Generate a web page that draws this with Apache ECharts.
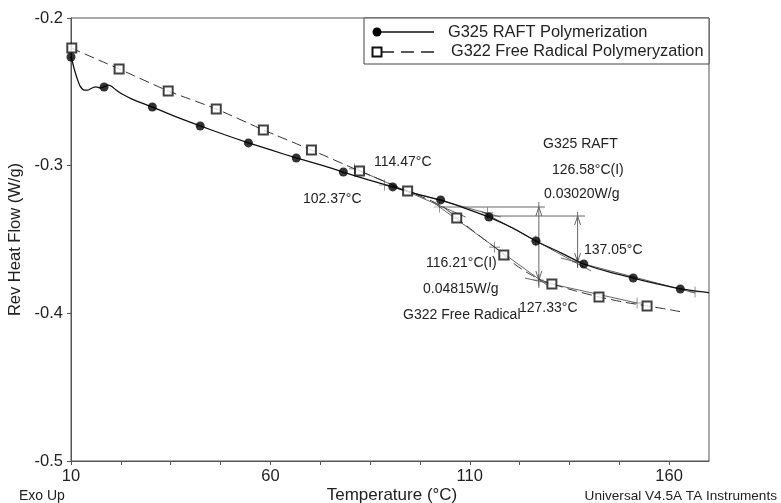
<!DOCTYPE html>
<html>
<head>
<meta charset="utf-8">
<script src="https://cdn.jsdelivr.net/npm/echarts@6/dist/echarts.min.js"></script>
<style>html,body{margin:0;padding:0;background:#fff}#chart{width:781px;height:503px}</style>
</head>
<body>
<div id="chart"></div>
<script>
// G325 RAFT Polymerization, rev heat flow curve
const raftTemp = [10.0, 10.25, 10.75, 11.5, 12.26, 13.27, 14.27, 15.28, 16.28, 17.29, 18.29, 19.3, 20.05, 21.3, 22.8, 25.3, 27.8, 30.4, 36.4, 42.4, 48.4, 54.5, 60.5, 66.5, 72.6, 78.3, 84.6, 90.7, 96.7, 102.7, 108.7, 114.8, 120.8, 126.6, 132.9, 138.6, 144.9, 151.0, 157.0, 162.8, 170.0]
const raftFlow = [-0.2258, -0.2284, -0.2339, -0.2406, -0.2460, -0.2488, -0.2488, -0.2474, -0.2467, -0.2474, -0.2467, -0.2454, -0.2460, -0.2488, -0.2515, -0.2549, -0.2576, -0.2603, -0.2670, -0.2731, -0.2789, -0.2846, -0.2897, -0.2948, -0.2995, -0.3043, -0.3097, -0.3144, -0.3192, -0.3232, -0.3287, -0.3348, -0.3422, -0.3510, -0.3591, -0.3666, -0.3720, -0.3761, -0.3801, -0.3835, -0.3860]
const raftMarkTemp = [10.0, 18.3, 30.4, 42.4, 54.5, 66.5, 78.3, 90.7, 102.7, 114.8, 126.6, 138.6, 151.0, 162.8]
const raftMarkFlow = [-0.2264, -0.2467, -0.2603, -0.2731, -0.2846, -0.2948, -0.3043, -0.3144, -0.3232, -0.3348, -0.3510, -0.3666, -0.3761, -0.3835]

// G322 Free Radical Polymeryzation
const frTemp = [10.0, 22.06, 34.37, 46.43, 58.24, 70.30, 82.36, 94.42, 100.45, 103.72, 106.73, 110.25, 113.52, 116.53, 118.54, 121.56, 124.57, 127.84, 130.60, 136.63, 142.41, 148.44, 154.47, 159.25, 163.27]
const frFlow = [-0.2203, -0.2345, -0.2494, -0.2616, -0.2758, -0.2894, -0.3036, -0.3171, -0.3239, -0.3287, -0.3354, -0.3429, -0.3497, -0.3558, -0.3605, -0.3673, -0.3727, -0.3774, -0.3801, -0.3849, -0.3889, -0.3923, -0.3950, -0.3971, -0.3991]
const frMarkTemp = [10.2, 22.06, 34.37, 46.43, 58.24, 70.30, 82.36, 94.42, 106.73, 118.54, 130.60, 142.41, 154.47]
const frMarkFlow = [-0.2203, -0.2345, -0.2494, -0.2616, -0.2758, -0.2894, -0.3036, -0.3171, -0.3354, -0.3605, -0.3801, -0.3889, -0.3950]

// analysis marks: limit, onset, inflection, end, limit
const raftPlusTemp = [88.64, 114.47, 126.58, 137.05, 166.5]
const raftPlusFlow = [-0.3131, -0.3320, -0.3510, -0.3652, -0.3855]
const frPlusTemp = [81.11, 102.37, 116.21, 127.33, 151.96]
const frPlusFlow = [-0.3022, -0.3280, -0.3552, -0.3774, -0.3930]

// tangent / step construction lines: [t1, f1, t2, f2]
const constructLines = [
    [81.11, -0.3019, 108.99, -0.3348],
    [100.70, -0.3246, 129.35, -0.3808],
    [123.82, -0.3761, 151.96, -0.3930],
    [102.37, -0.3280, 128.84, -0.3280],
    [88.64, -0.3131, 117.79, -0.3348],
    [112.76, -0.3307, 140.40, -0.3713],
    [132.86, -0.3625, 166.48, -0.3862],
    [114.47, -0.3341, 138.9, -0.3341]
]
// step arrows: [temp, lineTop, lineBottom, tipTop, tipBottom]
const stepArrows = [
    [127.33, -0.3246, -0.3828, -0.3280, -0.3774],
    [137.05, -0.3314, -0.3693, -0.3341, -0.3652]
]

const xLabels = [10, 60, 110, 160]
const yTicks = [-0.5, -0.4, -0.3, -0.2]

const pairs = (xs, ys) => xs.map((x, i) => [x, ys[i]])
const FONT = '"Liberation Sans", Arial, sans-serif'

const segs = constructLines.map(s => ({coords: [[s[0], s[1]], [s[2], s[3]]]}))
stepArrows.forEach(a => {
    const t = a[0], dx = 0.75, dy = 0.0061
    segs.push({coords: [[t, a[1]], [t, a[2]]]})
    segs.push({coords: [[t - dx, a[3] - dy], [t, a[3]], [t + dx, a[3] - dy]]})
    segs.push({coords: [[t - dx, a[4] + dy], [t, a[4]], [t + dx, a[4] + dy]]})
})

const plusPath = 'path://M9.4,0H10.6V9.4H20V10.6H10.6V20H9.4V10.6H0V9.4H9.4Z'

const notes = [
    ['114.47°C', 374, 162],
    ['102.37°C', 303, 199],
    ['G325 RAFT', 543, 144],
    ['126.58°C(I)', 552, 170],
    ['0.03020W/g', 544, 194],
    ['137.05°C', 584, 250],
    ['116.21°C(I)', 426, 263],
    ['0.04815W/g', 423, 289],
    ['G322 Free Radical', 403, 315],
    ['127.33°C', 519, 308]
]

const chart = echarts.init(document.getElementById('chart'))
chart.setOption({
    animation: false,
    grid: {left: 71, right: 72, top: 18, bottom: 42, show: true, borderColor: '#555', borderWidth: 1,
        containLabel: false, outerBoundsMode: 'none'},
    xAxis: {
        type: 'value', min: 10, max: 170, interval: 12.5,
        axisLine: {lineStyle: {color: '#555'}},
        axisTick: {length: 4, lineStyle: {color: '#555'}},
        axisLabel: {
            margin: 7, fontFamily: FONT, fontSize: 16.5, color: '#222', showMaxLabel: false,
            formatter: v => xLabels.some(l => Math.abs(l - v) < 1e-6) ? String(v) : ''
        },
        splitLine: {show: false}
    },
    yAxis: {
        type: 'value', min: yTicks[0], max: yTicks[yTicks.length - 1], interval: 0.1,
        name: 'Rev Heat Flow (W/g)', nameLocation: 'middle', nameGap: 41,
        nameTextStyle: {fontFamily: FONT, fontSize: 16.5, color: '#222'},
        axisLine: {show: true, lineStyle: {color: '#555'}},
        axisTick: {show: true, length: 4, lineStyle: {color: '#555'}},
        axisLabel: {margin: 8, fontFamily: FONT, fontSize: 16.5, color: '#222', formatter: v => v.toFixed(1)},
        splitLine: {show: false}
    },
    series: [
        {type: 'lines', coordinateSystem: 'cartesian2d', polyline: true, silent: true, z: 1,
            lineStyle: {color: '#666', width: 1, opacity: 1}, data: segs},
        {type: 'line', data: pairs(frTemp, frFlow), showSymbol: false, smooth: 0.2, z: 2,
            lineStyle: {color: '#333', width: 1, type: [10, 5]}},
        {type: 'line', data: pairs(raftTemp, raftFlow), showSymbol: false, smooth: 0.2, z: 3,
            lineStyle: {color: '#111', width: 1.3}},
        {type: 'scatter', data: pairs(frPlusTemp, frPlusFlow).concat(pairs(raftPlusTemp, raftPlusFlow)),
            symbol: plusPath, symbolSize: 11, itemStyle: {color: '#333'}, z: 4},
        {type: 'scatter', data: pairs(raftMarkTemp, raftMarkFlow), symbol: 'circle', symbolSize: 9,
            itemStyle: {color: '#000'}, z: 5},
        {type: 'scatter', data: pairs(frMarkTemp, frMarkFlow), symbol: 'rect', symbolSize: 9,
            itemStyle: {color: '#fff', borderColor: '#111', borderWidth: 2}, z: 5}
    ],
    graphic: [
        {type: 'rect', shape: {x: 364, y: 18, width: 345, height: 46}, style: {fill: '#fff', stroke: '#444', lineWidth: 1}, z: 10},
        {type: 'line', shape: {x1: 377, y1: 32, x2: 434, y2: 32}, style: {stroke: '#111', lineWidth: 1.3}, z: 11},
        {type: 'circle', shape: {cx: 377, cy: 32, r: 4.5}, style: {fill: '#000'}, z: 12},
        {type: 'line', shape: {x1: 381, y1: 52, x2: 434, y2: 52}, style: {stroke: '#222', lineWidth: 1.3, lineDash: [13, 7]}, z: 11},
        {type: 'rect', shape: {x: 372.5, y: 47.5, width: 9, height: 9}, style: {fill: '#fff', stroke: '#111', lineWidth: 2}, z: 12},
        {type: 'text', x: 448, y: 32, style: {text: 'G325 RAFT Polymerization', font: '16.4px ' + FONT, fill: '#222', verticalAlign: 'middle'}, z: 12},
        {type: 'text', x: 451, y: 52, style: {text: 'G322 Free Radical Polymeryzation', font: '16.3px ' + FONT, fill: '#222', verticalAlign: 'middle'}, z: 12},
        {type: 'text', x: 392, y: 495, style: {text: 'Temperature (°C)', font: '17px ' + FONT, fill: '#222', align: 'center', verticalAlign: 'middle'}},
        {type: 'text', x: 19, y: 496, style: {text: 'Exo Up', font: '14px ' + FONT, fill: '#222', verticalAlign: 'middle'}},
        {type: 'text', x: 777, y: 496, style: {text: 'Universal V4.5A TA Instruments', font: '13.6px ' + FONT, fill: '#222', align: 'right', verticalAlign: 'middle'}}
    ].concat(notes.map(n => ({
        type: 'text', x: n[1], y: n[2], z: 12,
        style: {text: n[0], font: '14px ' + FONT, fill: '#222', verticalAlign: 'middle'}
    })))
})
</script>
</body>
</html>
